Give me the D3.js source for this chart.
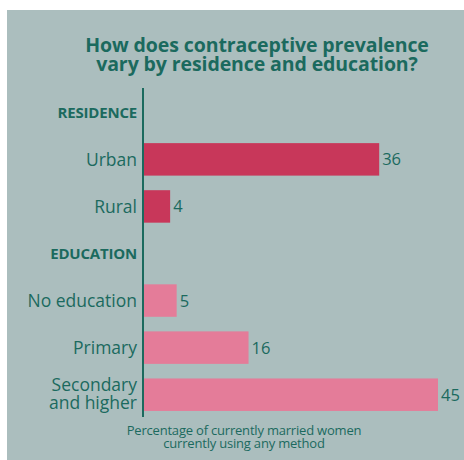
<!DOCTYPE html>
<html>
<head>
<meta charset="utf-8">
<script src="https://cdn.jsdelivr.net/npm/d3@7"></script>
<style>
  html, body { margin: 0; padding: 0; background: #fff; }
  svg { display: block; }
  text { font-family: "Open Sans", "Noto Sans", sans-serif; }
</style>
</head>
<body>
<svg width="464" height="460"></svg>
<script>
// Rows top to bottom; headers carry no value
const rows = ["RESIDENCE", "Urban", "Rural", "EDUCATION", "No education", "Primary", "Secondary and higher"];
const groups = ["header", "residence", "residence", "header", "education", "education", "education"];
const values = [null, 36, 4, null, 5, 16, 45];
const titleLines = ["How does contraceptive prevalence", "vary by residence and education?"];
const noteLines = ["Percentage of currently married women", "currently using any method"];

const teal = "#1b6a5e";
const colors = { residence: "#c8375a", education: "#e47c99" };

const svg = d3.select("svg");
const W = 464, H = 460;

// panel
svg.append("rect")
  .attr("x", 7).attr("y", 10)
  .attr("width", W - 7).attr("height", H - 10)
  .attr("fill", "#abbebe");

const x0 = 143;
const x = d3.scaleLinear().domain([0, 45]).range([x0 + 1, 438]);
const y = d3.scaleBand().domain(rows).range([89, 418]).paddingInner(0.31).paddingOuter(0.15);

// title
svg.append("g").selectAll("text")
  .data(titleLines)
  .join("text")
  .attr("x", 257)
  .attr("y", (d, i) => 52 + i * 19)
  .attr("text-anchor", "middle")
  .attr("font-size", 19.5)
  .attr("font-weight", "bold")
  .attr("fill", teal)
  .attr("letter-spacing", -0.1)
  .text(d => d);

const data = rows.map((r, i) => ({ label: r, group: groups[i], value: values[i] }));

// bars
svg.append("g").selectAll("rect")
  .data(data.filter(d => d.value != null))
  .join("rect")
  .attr("x", x(0))
  .attr("y", d => y(d.label))
  .attr("width", d => x(d.value) - x(0))
  .attr("height", y.bandwidth())
  .attr("fill", d => colors[d.group]);

// value labels
svg.append("g").selectAll("text")
  .data(data.filter(d => d.value != null))
  .join("text")
  .attr("x", d => x(d.value) + 3)
  .attr("y", d => y(d.label) + y.bandwidth() / 2)
  .attr("dy", "0.36em")
  .attr("font-size", 16.5)
  .attr("fill", teal)
  .text(d => d.value);

// row labels
const lab = svg.append("g").selectAll("text")
  .data(data)
  .join("text")
  .attr("x", 137)
  .attr("y", d => y(d.label) + y.bandwidth() / 2)
  .attr("text-anchor", "end")
  .attr("fill", teal)
  .attr("font-size", d => d.group === "header" ? 15 : 17.5)
  .attr("font-weight", d => d.group === "header" ? "bold" : "normal")
  .attr("letter-spacing", d => d.group === "header" ? -0.2 : 0);

lab.each(function(d) {
  const t = d3.select(this);
  if (d.label === "Secondary and higher") {
    t.append("tspan").attr("x", 137).attr("dy", "-0.22em").text("Secondary");
    t.append("tspan").attr("x", 137).attr("dy", "1.04em").text("and higher");
  } else {
    t.attr("dy", "0.36em").text(d.label);
  }
});

// axis line
svg.append("line")
  .attr("x1", x0).attr("x2", x0)
  .attr("y1", 88).attr("y2", 417)
  .attr("stroke", teal)
  .attr("stroke-width", 2);

// note under chart
svg.append("g").selectAll("text")
  .data(noteLines)
  .join("text")
  .attr("x", 244)
  .attr("y", (d, i) => 435 + i * 12.5)
  .attr("text-anchor", "middle")
  .attr("font-size", 13)
  .attr("fill", teal)
  .attr("letter-spacing", -0.2)
  .text(d => d);
</script>
</body>
</html>
